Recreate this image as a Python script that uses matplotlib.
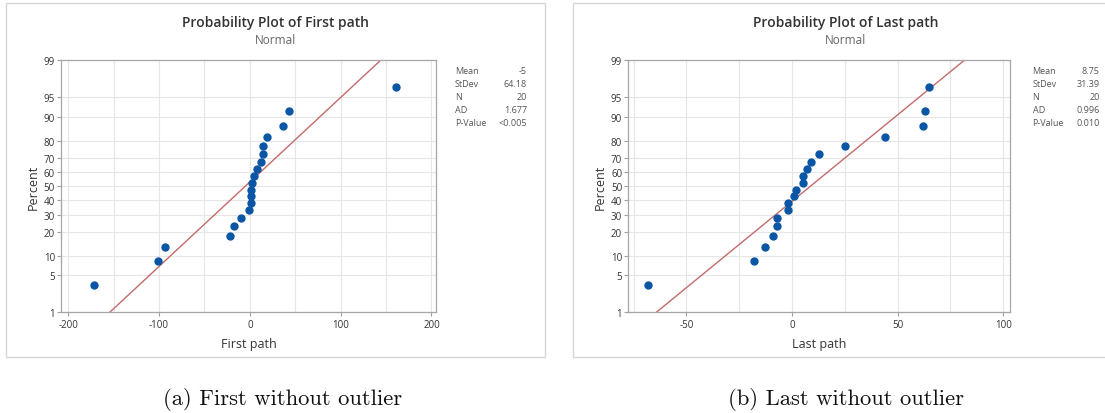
import matplotlib
matplotlib.use("Agg")
import matplotlib.pyplot as plt
from matplotlib.patches import Rectangle
from statistics import NormalDist

# plotting positions (percent) shared by both panels
percent = [3.4, 8.3, 13.2, 18.1, 23.0, 27.9, 32.8, 37.7, 42.6, 47.5,
           52.5, 57.4, 62.3, 67.2, 72.1, 77.0, 81.9, 86.8, 91.7, 96.6]

first_path = [-172, -101, -93, -22, -17, -10, -1, 1, 1, 1,
              2, 4, 8, 12, 14, 14, 19, 36, 43, 161]
last_path = [-68, -18, -13, -9, -7, -7, -2, -2, 1, 2,
             5, 5, 7, 9, 13, 25, 44, 62, 63, 65]

first_mean, first_sd = -5, 64.18
last_mean, last_sd = 8.75, 31.39

stat_names = ["Mean", "StDev", "N", "AD", "P-Value"]
first_stats = ["-5", "64.18", "20", "1.677", "<0.005"]
last_stats = ["8.75", "31.39", "20", "0.996", "0.010"]

pct_ticks = [1, 5, 10, 20, 30, 40, 50, 60, 70, 80, 90, 95, 99]

plt.rcParams["axes.unicode_minus"] = False

W, H = 1105, 414
nd = NormalDist()
z = lambda p: nd.inv_cdf(p / 100.0)

sans = ["Open Sans", "DejaVu Sans"]
fig = plt.figure(figsize=(W / 100, H / 100), dpi=100)


def fx(px):
    return px / W


def fy(py):
    return (H - py) / H


def panel(box, axpos, data, mean, sd, xlim, major, minor, title, xlabel,
          stats, stat_x, caption, cap_x):
    bx0, bx1 = box
    fig.patches.append(Rectangle((fx(bx0), fy(358)), fx(bx1 - bx0), 354 / H,
                                 transform=fig.transFigure, fill=False,
                                 edgecolor="#d6d6d6", lw=1))
    x0, x1 = axpos
    ax = fig.add_axes([fx(x0), fy(313.3), fx(x1 - x0), (313.3 - 61) / H])
    ax.set_xlim(*xlim)
    ax.set_ylim(z(1), z(99))
    ax.set_xticks(major)
    ax.set_xticks(minor, minor=True)
    ax.set_yticks([z(p) for p in pct_ticks])
    ax.set_yticklabels([str(p) for p in pct_ticks])
    ax.grid(True, which="both", color="#e6e6e6", lw=0.8, zorder=0)
    ax.set_axisbelow(True)
    ax.tick_params(which="major", length=3, width=0.8, color="#a0a0a0",
                   labelsize=7, labelcolor="#333333", pad=1.5)
    ax.tick_params(which="minor", length=0)
    for lab in ax.get_xticklabels() + ax.get_yticklabels():
        lab.set_family(sans)
    for s in ax.spines.values():
        s.set_color("#a6a6a6")
        s.set_linewidth(0.9)

    # fitted normal line from mean and stdev
    ax.plot([mean + sd * z(1), mean + sd * z(99)], [z(1), z(99)],
            color="#c46a6a", lw=1, zorder=2)
    ax.plot(data, [z(p) for p in percent], "o", color="#0a56a5", ms=5,
            mec="#0a56a5", zorder=3, clip_on=False)

    cx = (bx0 + min(bx1, 1118)) / 2
    fig.text(fx(cx), fy(23.5), title, ha="center", va="center", fontsize=10,
             fontweight="semibold", color="#333333", family=sans)
    fig.text(fx(cx), fy(40), "Normal", ha="center", va="center", fontsize=8.5,
             color="#666666", family=sans)
    fig.text(fx((x0 + x1) / 2), fy(345), xlabel, ha="center", va="center",
             fontsize=9, color="#333333", family=sans)
    fig.text(fx(x0 - 28), fy(187), "Percent", ha="center", va="center",
             rotation=90, fontsize=9, color="#333333", family=sans)

    lx, rx = stat_x
    for i, (name, val) in enumerate(zip(stat_names, stats)):
        yy = 72 + i * 12.9
        fig.text(fx(lx), fy(yy), name, ha="left", va="center", fontsize=6.5,
                 color="#555555", family=sans)
        fig.text(fx(rx), fy(yy), val, ha="right", va="center", fontsize=6.5,
                 color="#555555", family=sans)

    fig.text(fx(cap_x), fy(400), caption, ha="center", va="center",
             fontsize=16.3, family="cmr10", color="#111111")
    return ax


panel((6, 545), (61.3, 436), first_path, first_mean, first_sd, (-207.7, 205),
      [-200, -100, 0, 100, 200], [-150, -50, 50, 150],
      "Probability Plot of First path", "First path", first_stats, (455, 527),
      "(a) First without outlier", 283)
panel((573, 1118), (628.4, 1010.3), last_path, last_mean, last_sd, (-77.5, 103.4),
      [-50, 0, 50, 100], [-75, -25, 25, 75],
      "Probability Plot of Last path", "Last path", last_stats, (1032.6, 1099.6),
      "(b) Last without outlier", 846)

fig.savefig("out.png", dpi=100)
